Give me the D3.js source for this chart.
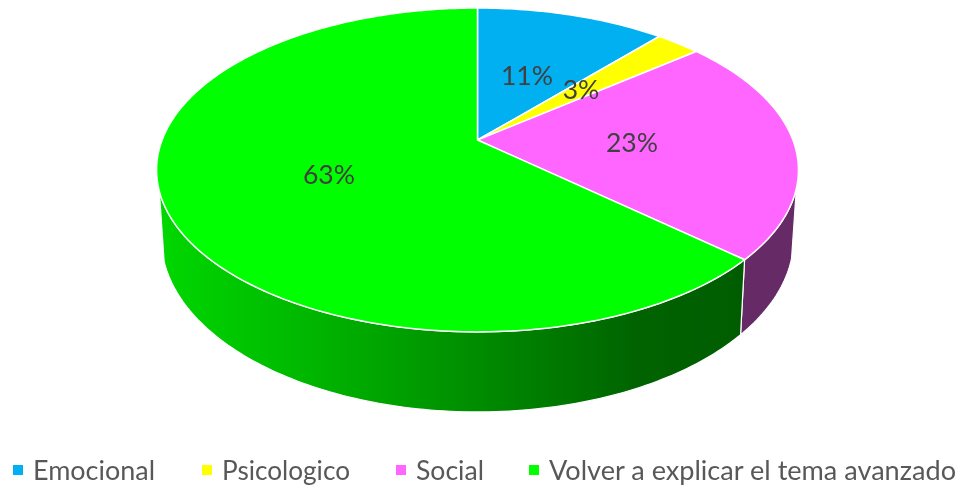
<!DOCTYPE html>
<html>
<head>
<meta charset="utf-8">
<script src="https://cdnjs.cloudflare.com/ajax/libs/d3/7.9.0/d3.min.js"></script>
<style>html,body{margin:0;padding:0;background:#fff}svg{display:block}</style>
</head>
<body>
<svg id="chart" width="964" height="486"></svg>
<script>
(function () {
const categories = ["Emocional", "Psicologico", "Social", "Volver a explicar el tema avanzado"];
const values = [11.4, 2.7, 22.6, 63.3];
const colors = ["#00B0F0", "#FFFF00", "#FF66FF", "#00FF00"];
const sideColors = ["#005a7a", "#7a7a00", "#662A66", null];
const labelOffsets = [[527, 75], [581, 89], [632, 142], [329, 174]];
const legendX = [13, 202, 396, 529];
const legendWidths = [122, 128, 68, 407];

const svg = d3.select("#chart");
const defs = svg.append("defs");
defs.append("filter").attr("id", "soft").append("feGaussianBlur").attr("stdDeviation", 0.5);

const grad = defs.append("linearGradient").attr("id", "greenSide")
  .attr("gradientUnits", "userSpaceOnUse").attr("x1", 157).attr("x2", 740).attr("y1", 0).attr("y2", 0);
[[0, "#00d800"], [0.25, "#00b800"], [0.55, "#008c00"], [0.82, "#006400"], [1, "#005c00"]]
  .forEach(([o, c]) => grad.append("stop").attr("offset", o).attr("stop-color", c));

// Perspective projection of the pie disc
const cx = 477.5, apexY = 140, A = 315.4, B = 156.4, k = -0.185;
function topEdge(a) {
  const u = Math.sin(a), v = -Math.cos(a), d = 1 + k * v;
  return [cx + A * u / d, apexY + B * v / d];
}
function bottomEdge(a) {
  const [x, y] = topEdge(a);
  return [cx + (x - cx) * 0.985, y + 75 + (y - 260) * 0.07];
}
const pie = d3.pie().sort(null).startAngle(0).endAngle(2 * Math.PI);
const arcs = pie(values);
const line = d3.line();
const deg = Math.PI / 180;
const samples = (a0, a1) => d3.range(a0, a1, deg).concat([a1]);

const sideStart = 107 * deg, sideEnd = 252 * deg;
const g = svg.append("g").attr("filter", "url(#soft)");

// side walls
g.selectAll("path.side").data(arcs).join("path").attr("class", "side")
  .attr("d", d => {
    const a0 = Math.max(d.startAngle, sideStart), a1 = Math.min(d.endAngle, sideEnd);
    if (a1 <= a0) return null;
    const s = samples(a0, a1);
    return line(s.map(topEdge).concat(s.slice().reverse().map(bottomEdge))) + "Z";
  })
  .attr("fill", (d, i) => sideColors[i] || "url(#greenSide)")
  .attr("stroke", "#fff").attr("stroke-width", 1.2).attr("stroke-linejoin", "round");

// top faces
g.selectAll("path.face").data(arcs).join("path").attr("class", "face")
  .attr("d", d => line([[cx, apexY]].concat(samples(d.startAngle, d.endAngle).map(topEdge))) + "Z")
  .attr("fill", (d, i) => colors[i])
  .attr("stroke", "#fff").attr("stroke-width", 1.5).attr("stroke-linejoin", "round");

// data labels
const total = d3.sum(values);
svg.append("g").selectAll("text").data(values).join("text")
  .attr("x", (d, i) => labelOffsets[i][0]).attr("y", (d, i) => labelOffsets[i][1])
  .attr("text-anchor", "middle").attr("dominant-baseline", "central")
  .attr("font-family", "Lato, sans-serif").attr("font-size", 26.5)
  .attr("fill", "#404040").attr("filter", "url(#soft)")
  .text(d => d3.format(".0%")(d / total));

// legend
const legend = svg.append("g").selectAll("g").data(categories).join("g")
  .attr("transform", (d, i) => `translate(${legendX[i]},0)`).attr("filter", "url(#soft)");
legend.append("rect").attr("x", 0).attr("y", 465).attr("width", 10).attr("height", 10)
  .attr("fill", (d, i) => colors[i]);
legend.append("text").attr("x", 20).attr("y", 480)
  .attr("font-family", "Lato, sans-serif").attr("font-size", 27).attr("fill", "#595959")
  .attr("textLength", (d, i) => legendWidths[i]).attr("lengthAdjust", "spacingAndGlyphs")
  .text(d => d);
})();
</script>
</body>
</html>
